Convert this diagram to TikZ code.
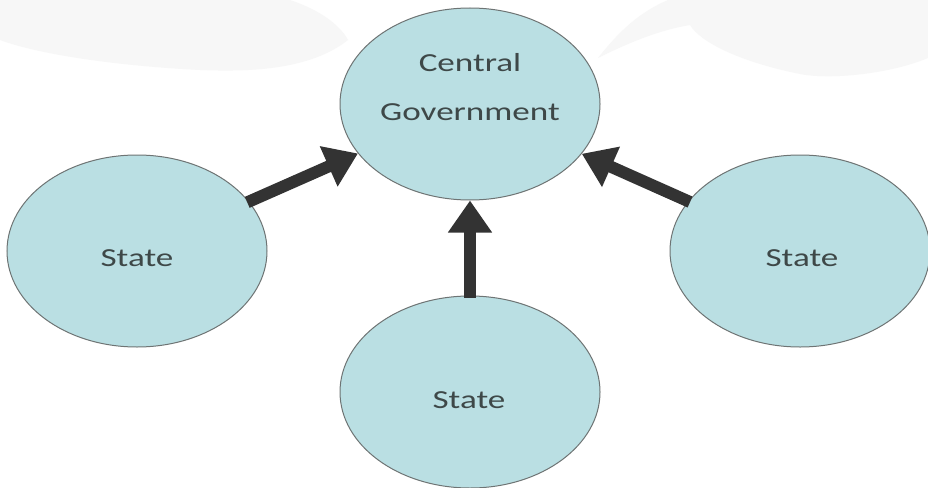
\documentclass[tikz,border=0pt]{standalone}
\usepackage{fontspec}
\setmainfont{Carlito}
\usetikzlibrary{shapes.geometric,arrows.meta}
\definecolor{ballfill}{HTML}{BADFE3}
\definecolor{balledge}{HTML}{6E7474}
\definecolor{txtcol}{HTML}{3E4848}
\definecolor{arrcol}{HTML}{333333}
\definecolor{cloud}{HTML}{F7F7F7}
\newcommand{\wide}[1]{\scalebox{1.35}[1]{#1}}
\tikzset{
  ball/.style={ellipse, draw=balledge, line width=1pt, fill=ballfill,
    minimum width=260pt, minimum height=192pt, inner sep=0pt},
  lbl/.style={text=txtcol, font=\fontsize{26}{30}\selectfont, align=center, inner sep=0pt},
  bigarrow/.style={draw=arrcol, line width=12pt,
    -{Triangle[width=42pt,length=32pt]}, shorten <=-2pt}
}
\begin{document}
\begin{tikzpicture}[x=1pt,y=-1pt]
\useasboundingbox (0,0) rectangle (928,487);
\fill[white] (0,0) rectangle (928,487);
% faint background shapes
\fill[cloud] (0,0) -- (290,0) .. controls (320,10) and (340,25) .. (348,40)
  .. controls (310,70) and (250,72) .. (200,70)
  .. controls (120,66) and (40,55) .. (0,40) -- cycle;
\fill[cloud] (598,58) .. controls (620,30) and (640,12) .. (668,0) -- (928,0) -- (928,58)
  .. controls (890,74) and (830,80) .. (800,74)
  .. controls (740,62) and (700,42) .. (690,25)
  .. controls (660,30) and (630,42) .. (598,58) -- cycle;
% nodes
\node[ball] (cg) at (470,104) {};
\node[lbl] (cgt) at (470,87) {\wide{Central}\\[19pt]\wide{Government}};
\node[ball] (sl) at (137,251) {};
\node[lbl] (slt) at (137,258) {\wide{State}};
\node[ball] (sr) at (800,251) {};
\node[lbl] (srt) at (802,258) {\wide{State}};
\node[ball] (sb) at (470,392) {};
\node[lbl] (sbt) at (469,400) {\wide{State}};
% arrows
\draw[bigarrow] (sl) -- (cg);
\draw[bigarrow] (sr) -- (cg);
\draw[bigarrow] (sb) -- (cg);
\end{tikzpicture}
\end{document}
